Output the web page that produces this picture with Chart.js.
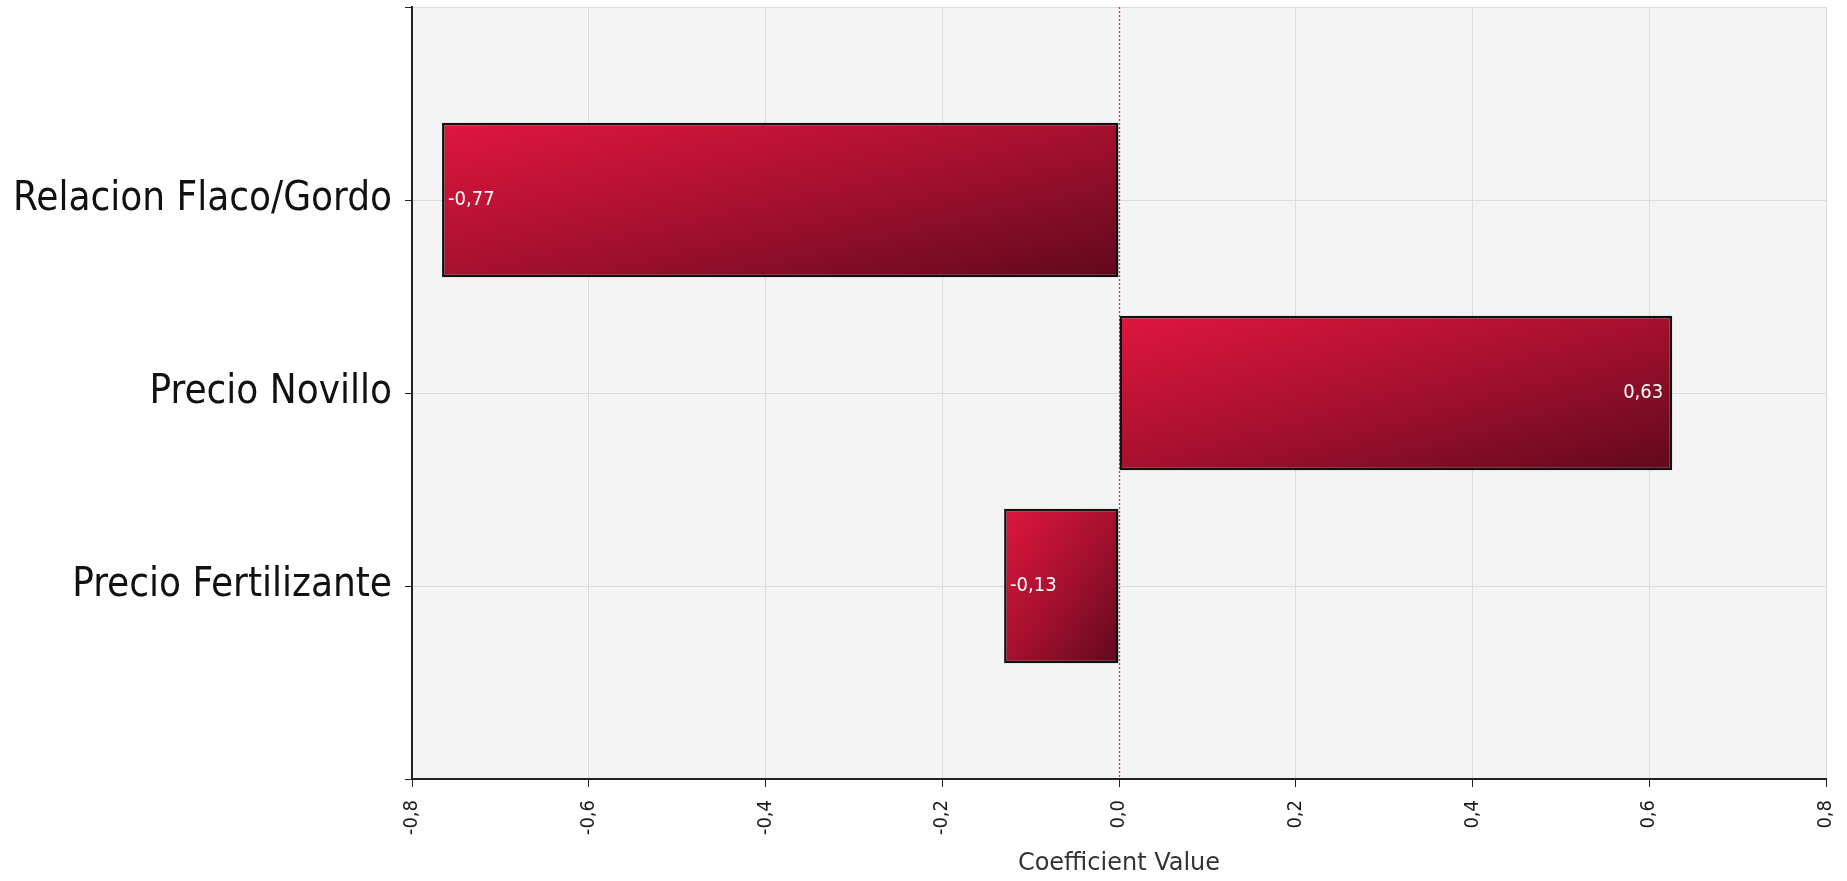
<!DOCTYPE html>
<html>
<head>
<meta charset="utf-8">
<script src="https://cdn.jsdelivr.net/npm/chart.js@4/dist/chart.umd.min.js"></script>
<style>
html,body{margin:0;padding:0;background:#ffffff;}
#wrap{width:1847px;height:881px;position:relative;}
</style>
</head>
<body>
<div id="wrap"><canvas id="c" width="1847" height="881"></canvas></div>
<script>
const categories = ['Relacion Flaco/Gordo', 'Precio Novillo', 'Precio Fertilizante'];
const coefficients = [-0.766, 0.626, -0.13];
const xTickLabels = ['-0,8', '-0,6', '-0,4', '-0,2', '0,0', '0,2', '0,4', '0,6', '0,8'];
const xAxisTitle = 'Coefficient Value';

const FONT = '"DejaVu Sans Condensed", "DejaVu Sans", sans-serif';
const FONT_WIDE = '"DejaVu Sans", sans-serif';
const yLabels = [''].concat(categories, ['']);
const yData = [null].concat(coefficients, [null]);

function fmt(v) { return v.toFixed(2).replace('.', ','); }

function barGradient(ctx) {
  const chart = ctx.chart;
  const xs = chart.scales.x, ys = chart.scales.y;
  if (!xs || !ys || ctx.type !== 'data' || !ctx.parsed || ctx.parsed.x == null) return '#b0102e';
  const v = ctx.parsed.x;
  const x0 = xs.getPixelForValue(0), x1 = xs.getPixelForValue(v);
  const yc = ys.getPixelForValue(ctx.dataIndex);
  const step = Math.abs(ys.getPixelForValue(1) - ys.getPixelForValue(0));
  const h = step * 0.8;
  const left = Math.min(x0, x1), w = Math.abs(x1 - x0);
  const top = yc - h / 2;
  if (!isFinite(left) || w <= 0) return '#b0102e';
  const cx = left + w / 2, cy = top + h / 2;
  const k = (w * h) / (w * w + h * h);
  const g = chart.ctx.createLinearGradient(cx - k * h, cy - k * w, cx + k * h, cy + k * w);
  g.addColorStop(0, 'rgb(224,22,62)');
  g.addColorStop(0.5, 'rgb(166,16,46)');
  g.addColorStop(1, 'rgb(96,9,29)');
  return g;
}

const plotBg = {
  id: 'plotBg',
  beforeDraw(chart) {
    const a = chart.chartArea, c = chart.ctx;
    c.save();
    c.fillStyle = '#f4f4f4';
    c.fillRect(a.left, a.top, a.right - a.left, a.bottom - a.top);
    c.restore();
  }
};

const zeroLine = {
  id: 'zeroLine',
  beforeDatasetsDraw(chart) {
    const a = chart.chartArea, c = chart.ctx;
    const x = Math.round(chart.scales.x.getPixelForValue(0)) + 0.5;
    c.save();
    c.strokeStyle = '#e03050';
    c.lineWidth = 1.3;
    c.setLineDash([2, 2]);
    c.beginPath();
    c.moveTo(x, a.top);
    c.lineTo(x, a.bottom);
    c.stroke();
    c.restore();
  }
};

const barLabels = {
  id: 'barLabels',
  afterDatasetsDraw(chart) {
    const c = chart.ctx;
    const meta = chart.getDatasetMeta(0);
    c.save();
    c.fillStyle = '#ffffff';
    c.font = '20px ' + FONT;
    c.textBaseline = 'middle';
    meta.data.forEach((el, i) => {
      const v = yData[i];
      if (v == null) return;
      if (v < 0) {
        c.textAlign = 'left';
        c.fillText(fmt(v), el.x + 6, el.y);
      } else {
        c.textAlign = 'right';
        c.fillText(fmt(v), el.x - 9, el.y);
      }
    });
    c.restore();
  }
};

new Chart(document.getElementById('c'), {
  type: 'bar',
  data: {
    labels: yLabels,
    datasets: [{
      data: yData,
      backgroundColor: barGradient,
      borderColor: '#111111',
      borderWidth: 2.5,
      borderSkipped: false,
      categoryPercentage: 0.8,
      barPercentage: 1.0
    }]
  },
  options: {
    indexAxis: 'y',
    responsive: false,
    animation: false,
    events: [],
    layout: { padding: { top: 7, right: 21, left: 0, bottom: 0 } },
    plugins: { legend: { display: false }, tooltip: { enabled: false } },
    scales: {
      x: {
        type: 'linear',
        min: -0.8,
        max: 0.8,
        ticks: {
          stepSize: 0.2,
          minRotation: 90,
          maxRotation: 90,
          padding: 13,
          color: '#1a1a1a',
          font: { family: FONT, size: 20 },
          callback: (v, i) => xTickLabels[i]
        },
        grid: {
          color: (ctx) => (ctx.tick && Math.abs(ctx.tick.value) < 1e-9) ? 'rgba(0,0,0,0)' : '#dcdcdc',
          tickColor: '#222222',
          tickLength: 8,
          lineWidth: 1
        },
        border: { color: '#222222', width: 2 },
        title: {
          display: true,
          text: xAxisTitle,
          color: '#333333',
          font: { family: FONT_WIDE, size: 24 },
          padding: { top: 0, bottom: 3 }
        },
        afterFit(s) { s.height = 102; s.paddingLeft = 0; s.paddingRight = 0; }
      },
      y: {
        type: 'category',
        offset: false,
        ticks: {
          autoSkip: false,
          padding: 13,
          color: '#111111',
          font: { family: FONT, size: 40 }
        },
        grid: {
          offset: false,
          color: '#dcdcdc',
          tickColor: '#222222',
          tickLength: 7,
          lineWidth: 1
        },
        border: { color: '#222222', width: 2 },
        afterFit(s) { s.width = 412; s.paddingTop = 0; s.paddingBottom = 0; }
      }
    }
  },
  plugins: [plotBg, zeroLine, barLabels]
});
</script>
</body>
</html>
